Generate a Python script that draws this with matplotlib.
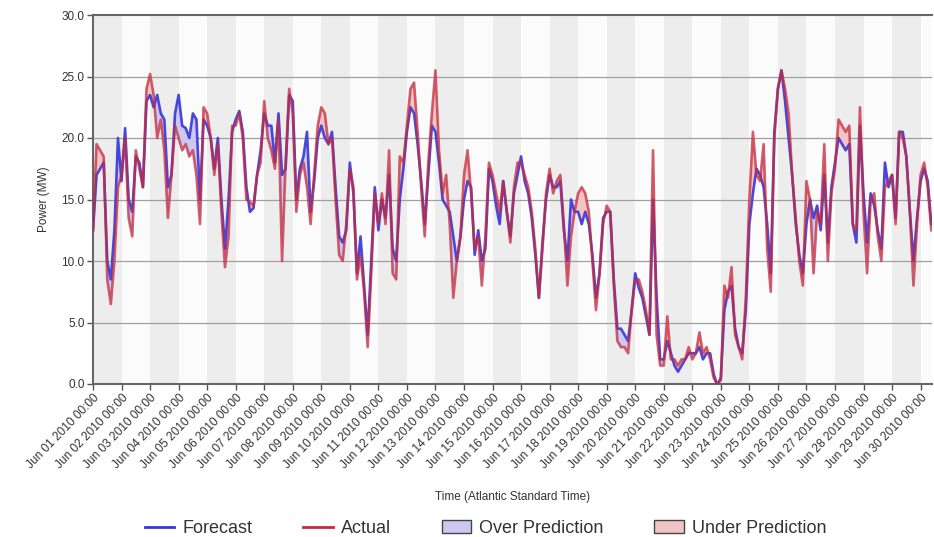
import numpy as np
import matplotlib
matplotlib.use("Agg")
import matplotlib.pyplot as plt
import matplotlib.dates as mdates
from matplotlib.lines import Line2D
from matplotlib.patches import Patch

plt.rcParams['font.family'] = ['Liberation Sans', 'DejaVu Sans']

# 3-hourly samples, Jun 01 2010 00:00 onward (MW)
actual = [
    12.5, 19.5, 19, 18.5, 8.5, 6.5, 10, 16,
    17, 20, 13.5, 12, 19, 17.5, 16, 24,
    25.2, 23.5, 20, 21.5, 19, 13.5, 17, 21,
    20, 19, 19.5, 18.5, 19, 17, 13, 22.5,
    22, 20, 17, 19.5, 14, 9.5, 12, 21,
    21, 22, 20, 15, 14.8, 14.5, 17, 18,
    23, 20, 19, 17.5, 21.5, 10, 18, 24,
    22, 14, 17, 18, 16, 13, 17, 21,
    22.5, 22, 19.5, 20, 15, 10.5, 10, 13,
    17.5, 16, 8.5, 10.5, 7.5, 3, 9, 15.5,
    13, 15.5, 13, 19, 9, 8.5, 18.5, 18,
    21, 24, 24.5, 20.5, 16, 12, 18, 22,
    25.5, 19, 15.5, 17, 13, 7, 10, 12,
    17, 19, 15.5, 11, 12, 8, 12, 18,
    17, 15.5, 14, 16.5, 14, 11.5, 16, 18,
    18, 17, 16, 14, 11, 7, 11, 15.5,
    17.5, 15.5, 16.5, 17, 13, 8, 12, 14,
    15.5, 16, 15.5, 14, 10, 6, 9, 13,
    14.5, 14, 8, 3.5, 3, 3, 2.5, 6,
    8.5, 8.5, 7.5, 6, 4, 19, 4, 1.5,
    1.5, 5.5, 2, 2, 1.5, 2, 2, 3,
    2, 2.5, 4.2, 2.5, 3, 2, 0.5, 0,
    0.3, 8, 7, 9.5, 4, 3, 2, 7,
    15, 20.5, 17, 16.5, 19.5, 11, 7.5, 20,
    24, 25.5, 24, 22, 17, 13.5, 10, 8,
    16.5, 15, 9, 14, 13, 19.5, 10, 15.5,
    17.5, 21.5, 21, 20.5, 21, 13, 12.5, 22.5,
    14, 9, 15, 15.5, 12, 10, 16, 16.5,
    17, 13, 20.5, 20, 18.5, 14, 8, 13,
    17, 18, 16, 12.5,
]

forecast = [
    12.5, 17, 17.5, 18, 10, 8.5, 12.5, 20,
    16.5, 20.8, 15, 14, 18.5, 18, 16, 23,
    23.5, 22.5, 23.5, 22, 21.5, 16, 17, 22,
    23.5, 21, 20.8, 20, 22, 21.5, 15, 21.5,
    21, 20, 17.5, 20, 15, 11, 15, 20.5,
    21.5, 22.2, 20.5, 16, 14, 14.3, 17, 19,
    22, 21, 21, 18, 22, 17, 17.5, 23.5,
    23, 15, 17.5, 18.5, 20.5, 14, 16.5, 20,
    21, 20, 19.5, 20.5, 16, 12, 11.5, 12.5,
    18, 15.5, 9, 12, 8, 4, 10, 16,
    12.5, 15, 13.5, 17, 11, 10, 15, 17.5,
    20.5, 22.5, 22, 19.5, 16.5, 13, 17, 21,
    20.5, 18, 15, 14.5, 14, 12, 10, 12,
    15, 16.5, 16, 10.5, 12.5, 10, 11, 17.5,
    16.5, 14.5, 13, 16.5, 14, 12, 15.5, 17,
    18.5, 16.5, 15.5, 13.5, 10.5, 7, 11.5, 15,
    17, 16, 16, 16.5, 12.5, 10, 15, 14,
    14, 13, 14, 13, 10.5, 7, 9, 13.5,
    14, 14, 8.5, 4.5, 4.5, 4, 3.5, 6,
    9, 7.8, 7, 5.5, 4, 15, 7, 2,
    2, 3.5, 2.5, 1.5, 1, 1.5, 2, 2.5,
    2.5, 2.5, 3, 2, 2.5, 2.5, 0.8, -0.1,
    0.5, 6, 7.5, 8, 4.5, 3, 2.5, 6,
    13, 15.5, 17.5, 17, 16, 13, 9, 20.5,
    24, 25.5, 23, 20, 17, 13, 10.5, 9,
    13, 15, 13.5, 14.5, 12.5, 17, 11.5, 16,
    18, 20, 19.5, 19, 19.5, 13, 11.5, 21,
    15.5, 11.5, 15.5, 14.5, 12.5, 11, 18, 16,
    17, 13.5, 20.5, 20.5, 18.5, 14, 10, 13.5,
    16.5, 17.5, 16.5, 13,
]

y_ticks = [0, 5, 10, 15, 20, 25, 30]
start = np.datetime64('2010-06-01T00:00')
times = start + np.arange(len(actual)) * np.timedelta64(3, 'h')
day_starts = start + np.arange(30) * np.timedelta64(1, 'D')

a = np.array(actual, dtype=float)
f = np.array(forecast, dtype=float)
t = mdates.date2num(times.astype('datetime64[s]').astype(object))
days = mdates.date2num(day_starts.astype('datetime64[s]').astype(object))

fig = plt.figure(figsize=(9.34, 5.37), dpi=100)
ax = fig.add_axes([93/934, 1-384/537, (932-93)/934, (384-15)/537])
ax.set_facecolor('#fbfbfb')

xmax = days[-1] + 9.6/24
for i, d in enumerate(days):
    if i % 2 == 0:
        ax.axvspan(d, min(d + 1, xmax), color='#ededed', lw=0, zorder=0)

for yv in y_ticks[1:-1]:
    ax.axhline(yv, color='#a0a0a0', lw=0.9, zorder=1)

over_c = '#cbc8f2'
under_c = '#f2c4c4'
ax.fill_between(t, a, f, where=f >= a, interpolate=True, color=over_c, lw=0, zorder=2)
ax.fill_between(t, a, f, where=f < a, interpolate=True, color=under_c, lw=0, zorder=2)

blue = '#3a35d8'
red = '#c42a3c'
ax.plot(t, f, color=blue, lw=1.9, zorder=3, alpha=0.9)
ax.plot(t, a, color=red, lw=1.9, zorder=4, alpha=0.75)

ax.set_xlim(days[0], xmax)
ax.set_ylim(0, 30)
ax.set_yticks(y_ticks)
ax.set_yticklabels([f"{v:.1f}" for v in y_ticks], fontsize=8.5, color='#333333')
ax.set_xticks(days)
ax.set_xticklabels([mdates.num2date(d).strftime('%b %d %Y %H:%M') for d in days],
                   rotation=46, ha='right', rotation_mode='anchor', fontsize=8.6, color='#333333')
ax.tick_params(axis='both', direction='out', length=4, width=1, color='#555555', pad=2)

for side in ['left', 'bottom', 'top']:
    ax.spines[side].set_color('#666666')
    ax.spines[side].set_linewidth(1.5)
ax.spines['right'].set_visible(False)

ax.set_ylabel('Power (MW)', fontsize=8.5, color='#333333', labelpad=8)
ax.set_xlabel('Time (Atlantic Standard Time)', fontsize=8.5, color='#333333', labelpad=14)

handles = [
    Line2D([0], [0], color=blue, lw=2),
    Line2D([0], [0], color=red, lw=2),
    Patch(facecolor=over_c, edgecolor='#444444', lw=1),
    Patch(facecolor=under_c, edgecolor='#444444', lw=1),
]
labels = ['Forecast', 'Actual', 'Over Prediction', 'Under Prediction']
fig.legend(handles, labels, loc='lower center', bbox_to_anchor=(0.52, -0.03), ncol=4,
           frameon=False, fontsize=13, handlelength=1.65, columnspacing=2.8,
           handletextpad=0.45, labelcolor='#333333')

fig.savefig('out.png', dpi=100)
